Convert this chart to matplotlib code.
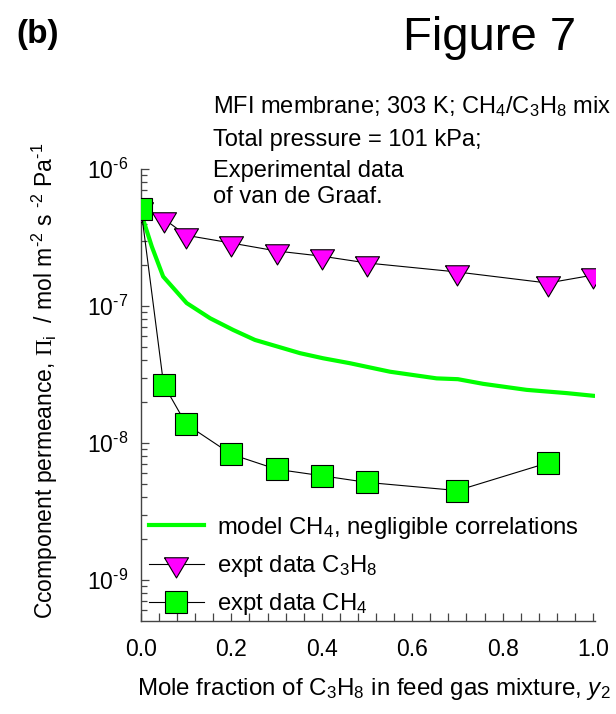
import numpy as np
import matplotlib
matplotlib.use('Agg')
import matplotlib.pyplot as plt
from matplotlib import ticker

plt.rcParams['font.family'] = ['Liberation Sans', 'DejaVu Sans']
plt.rcParams['mathtext.fontset'] = 'custom'
plt.rcParams['mathtext.rm'] = 'Liberation Sans'
plt.rcParams['mathtext.it'] = 'Liberation Sans:italic'
plt.rcParams['mathtext.cal'] = 'Liberation Serif'

# expt data C3H8 (mole fraction y2, permeance)
x_c3h8 = [0.0, 0.05, 0.1, 0.2, 0.3, 0.4, 0.5, 0.7, 0.9, 1.0]
p_c3h8 = [5.1e-7, 4.34e-7, 3.28e-7, 2.88e-7, 2.52e-7, 2.31e-7, 2.06e-7, 1.77e-7, 1.47e-7, 1.68e-7]

# expt data CH4
x_ch4 = [0.0, 0.05, 0.1, 0.2, 0.3, 0.4, 0.5, 0.7, 0.9]
p_ch4 = [5.1e-7, 2.67e-8, 1.37e-8, 8.26e-9, 6.42e-9, 5.76e-9, 5.15e-9, 4.49e-9, 7.15e-9]

# model CH4, negligible correlations
x_model = [0.0, 0.005, 0.024, 0.049, 0.101, 0.153, 0.204, 0.252, 0.352, 0.403,
           0.462, 0.551, 0.654, 0.701, 0.757, 0.853, 0.942, 1.0]
p_model = [5.1e-7, 4.25e-7, 2.71e-7, 1.64e-7, 1.05e-7, 8.13e-8, 6.68e-8, 5.65e-8, 4.52e-8, 4.15e-8,
           3.82e-8, 3.31e-8, 2.96e-8, 2.92e-8, 2.70e-8, 2.44e-8, 2.31e-8, 2.21e-8]

# y axis decades shown
y_decades = [1e-9, 1e-8, 1e-7, 1e-6]

# flattened down-triangle, centroid on the data point
tri = [(-1.0, 0.56), (1.0, 0.56), (0.0, -1.12), (-1.0, 0.56)]

def pow10(v, pos):
    e = int(round(np.log10(v)))
    if e < 0:
        return r'$10^{\text{-}%d}$' % (-e)
    return r'$10^{%d}$' % e

fig = plt.figure(figsize=(6.16, 7.14), dpi=100)
ax = fig.add_axes([0.2289, 0.1303, 0.737, 0.633])

ax.plot(x_model, p_model, color='#00ff00', lw=3.0, label='model CH$_4$, negligible correlations', zorder=2)
ax.plot(x_c3h8, p_c3h8, color='black', lw=0.8, marker=tri, ms=19.4, mfc='#ff00ff', mec='black',
        mew=0.8, label='expt data C$_3$H$_8$', zorder=3)
ax.plot(x_ch4, p_ch4, color='black', lw=0.8, marker='s', ms=15.8, mfc='#00ff00', mec='black',
        mew=0.8, label='expt data CH$_4$', zorder=4)

ax.set_yscale('log')
ax.set_xlim(0, 1.0044)
ax.set_ylim(10 ** -9.3, 1e-6)

ax.xaxis.set_major_locator(ticker.MultipleLocator(0.2))
ax.xaxis.set_minor_locator(ticker.MultipleLocator(0.04))
ax.xaxis.set_major_formatter(ticker.FormatStrFormatter('%.1f'))
ax.yaxis.set_major_locator(ticker.FixedLocator(y_decades))
ax.yaxis.set_minor_locator(ticker.LogLocator(base=10, subs=np.arange(2, 10), numticks=10))
ax.yaxis.set_major_formatter(ticker.FuncFormatter(pow10))
ax.yaxis.set_minor_formatter(ticker.NullFormatter())

for s in ['top', 'right']:
    ax.spines[s].set_visible(False)
for s in ['left', 'bottom']:
    ax.spines[s].set_color('#444444')
    ax.spines[s].set_linewidth(1.0)

ax.tick_params(axis='both', which='both', direction='in', color='#444444', width=0.9)
ax.tick_params(axis='x', which='both', length=6, labelsize=16.5, pad=12)
ax.tick_params(axis='y', which='major', length=6, labelsize=16.5, pad=9)
ax.tick_params(axis='y', which='minor', length=4.5)

leg = ax.legend(loc='lower left', bbox_to_anchor=(0.0176, 0.008), frameon=False, fontsize=17.2,
                handlelength=2.3, handletextpad=0.55, labelspacing=0.52, borderpad=0,
                borderaxespad=0)

fig.text(0.027, 0.94, '(b)', fontsize=24, fontweight='bold', va='baseline', ha='left')
fig.text(0.654, 0.93, 'Figure 7', fontsize=34, va='baseline', ha='left')

notes = ['MFI membrane; 303 K; CH$_4$/C$_3$H$_8$ mix',
         'Total pressure = 101 kPa;',
         'Experimental data',
         'of van de Graaf.']
note_y = [0.8417, 0.7955, 0.7521, 0.7157]
for t, yy in zip(notes, note_y):
    fig.text(0.3458, yy, t, fontsize=17, va='baseline', ha='left')

fig.text(0.073, 0.466,
         r'Ccomponent permeance, $\mathcal{\Pi}_\mathrm{i}$  / mol m$^{\text{-}2}$ s $^{\text{-}2}$ Pa$^{\text{-}1}$',
         fontsize=16.5, rotation=90, ha='center', va='center')
fig.text(0.607, 0.026, r'Mole fraction of C$_3$H$_8$ in feed gas mixture, $\mathit{y}_2$',
         fontsize=17.4, ha='center', va='baseline')

fig.savefig('out.png', dpi=100)
